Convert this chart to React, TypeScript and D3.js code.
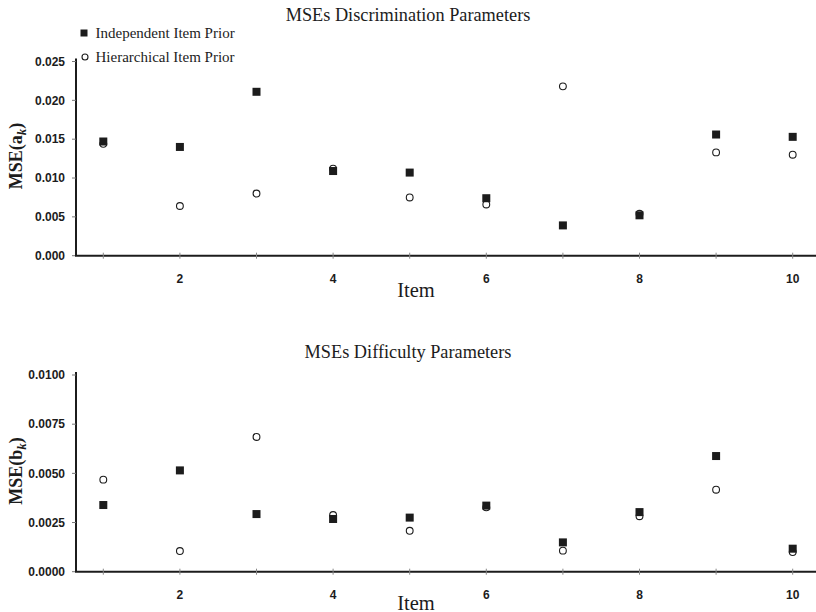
import React from "react";
import * as d3 from "d3";

// Items 1..10
const items = [1, 2, 3, 4, 5, 6, 7, 8, 9, 10];
const xTickValues = [2, 4, 6, 8, 10];

// MSE of discrimination parameters a_k
const discIndependent = [0.0147, 0.0140, 0.0211, 0.0109, 0.0107, 0.0074, 0.0039, 0.0052, 0.0156, 0.0153];
const discHierarchical = [0.0144, 0.0064, 0.0080, 0.0112, 0.0075, 0.0066, 0.0218, 0.0054, 0.0133, 0.0130];
const discTicks = [0, 0.005, 0.01, 0.015, 0.02, 0.025];

// MSE of difficulty parameters b_k
const diffIndependent = [0.00339, 0.00515, 0.00293, 0.00268, 0.00275, 0.00336, 0.00149, 0.00303, 0.00588, 0.00117];
const diffHierarchical = [0.00468, 0.00105, 0.00685, 0.00288, 0.00208, 0.00327, 0.00107, 0.00282, 0.00417, 0.00100];
const diffTicks = [0, 0.0025, 0.005, 0.0075, 0.01];

const seriesNames = ["Independent Item Prior", "Hierarchical Item Prior"];

const W = 816;
const H = 612;
const axisX = 76;
const ink = "#1c1c1c";
const serif = "'Liberation Serif', 'Times New Roman', serif";
const sans = "'Liberation Sans', Arial, sans-serif";
const narrow = "'Liberation Sans Narrow', 'Arial Narrow', 'Liberation Sans', sans-serif";

const x = d3.scaleLinear().domain([1, 10]).range([103.3, 792.7]);

type PanelProps = {
  title: string;
  titleY: number;
  letter: string;
  labelY: number;
  yDomain: [number, number];
  yRange: [number, number];
  ticks: number[];
  fmt: (v: number) => string;
  indep: number[];
  hier: number[];
  tickLabelY: number;
  itemLabelY: number;
};

function Panel(p: PanelProps) {
  const y = d3.scaleLinear().domain(p.yDomain).range(p.yRange);
  const base = y(0);
  return (
    <g>
      <text x={408} y={p.titleY} textAnchor="middle" fontFamily={serif} fontSize={18.3} fill={ink}>
        {p.title}
      </text>

      {/* y axis */}
      <line x1={axisX} x2={axisX} y1={y(p.yDomain[1]) - 3} y2={base} stroke={ink} strokeWidth={2} />
      {p.ticks.map((t) => (
        <g key={t}>
          <line x1={axisX - 4} x2={axisX} y1={y(t)} y2={y(t)} stroke="#777" strokeWidth={1} />
          <text
            x={axisX - 11}
            y={y(t)}
            dy="0.35em"
            textAnchor="end"
            fontFamily={narrow}
            fontWeight="bold"
            fontSize={12}
            fill={ink}
          >
            {p.fmt(t)}
          </text>
        </g>
      ))}

      {/* x axis */}
      <line x1={axisX - 1} x2={W} y1={base} y2={base} stroke={ink} strokeWidth={2} />
      {items.map((i) => (
        <line key={i} x1={x(i)} x2={x(i)} y1={base - 3} y2={base + 3} stroke="#888" strokeWidth={1} />
      ))}
      {xTickValues.map((i) => (
        <text
          key={i}
          x={x(i)}
          y={p.tickLabelY}
          textAnchor="middle"
          fontFamily={sans}
          fontWeight="bold"
          fontSize={12}
          fill={ink}
        >
          {i}
        </text>
      ))}
      <text x={416} y={p.itemLabelY} textAnchor="middle" fontFamily={serif} fontSize={20.5} fill={ink}>
        Item
      </text>

      {/* y axis title */}
      <text
        transform={`translate(22,${p.labelY}) rotate(-90)`}
        textAnchor="middle"
        fontFamily={serif}
        fontWeight="bold"
        fontSize={18}
        fill={ink}
      >
        MSE({p.letter}
        <tspan fontStyle="italic" fontSize={13} dy={4}>
          k
        </tspan>
        <tspan dy={-4}>)</tspan>
      </text>

      {/* hierarchical prior: open circles */}
      {p.hier.map((v, i) => (
        <circle key={"h" + i} cx={x(items[i])} cy={y(v)} r={3.4} fill="#fff" stroke={ink} strokeWidth={1.1} />
      ))}
      {/* independent prior: filled squares */}
      {p.indep.map((v, i) => (
        <rect key={"s" + i} x={x(items[i]) - 4} y={y(v) - 4} width={8} height={8} fill={ink} />
      ))}
    </g>
  );
}

export default function App() {
  const f3 = d3.format(".3f");
  const f4 = d3.format(".4f");
  return (
    <svg width={W} height={H} style={{ position: "absolute", left: 0, top: 0, background: "#fff" }}>
      <rect width={W} height={H} fill="#fff" />
      <Panel
        title="MSEs Discrimination Parameters"
        titleY={21}
        letter="a"
        labelY={156}
        yDomain={[0, 0.025]}
        yRange={[255.7, 61.5]}
        ticks={discTicks}
        fmt={f3}
        indep={discIndependent}
        hier={discHierarchical}
        tickLabelY={283}
        itemLabelY={297}
      />
      <Panel
        title="MSEs Difficulty Parameters"
        titleY={358}
        letter="b"
        labelY={471}
        yDomain={[0, 0.01]}
        yRange={[571.7, 375]}
        ticks={diffTicks}
        fmt={f4}
        indep={diffIndependent}
        hier={diffHierarchical}
        tickLabelY={599}
        itemLabelY={609.5}
      />

      {/* legend */}
      <rect x={84 - 3.5} y={33 - 3.5} width={7} height={7} fill={ink} />
      <text x={95.5} y={37.5} fontFamily={serif} fontSize={15} fill={ink}>
        {seriesNames[0]}
      </text>
      <circle cx={85} cy={57} r={3} fill="#fff" stroke={ink} strokeWidth={1.1} />
      <text x={95.5} y={62} fontFamily={serif} fontSize={15} fill={ink}>
        {seriesNames[1]}
      </text>
    </svg>
  );
}
